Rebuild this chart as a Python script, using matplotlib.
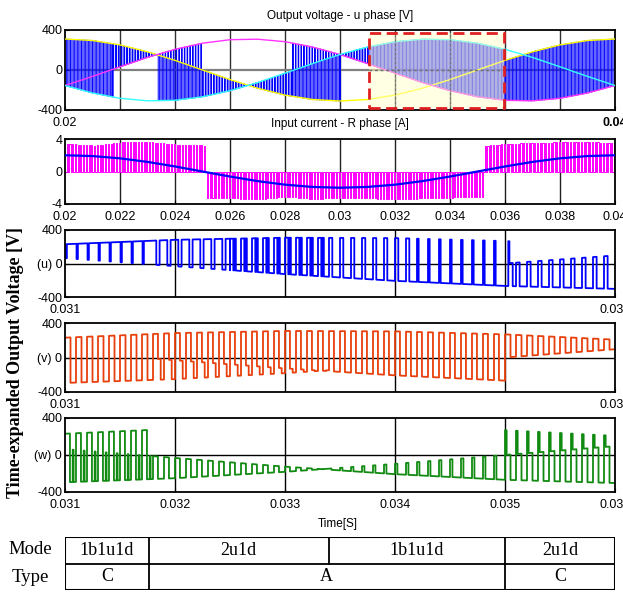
import numpy as np
import matplotlib.pyplot as plt
from matplotlib.patches import Rectangle

plt.rcParams['font.family'] = ['Liberation Sans Narrow', 'Liberation Sans', 'DejaVu Sans']

# input phase voltages [V], read every 1 ms from 0.020 s to 0.040 s
t_knot = np.linspace(0.020, 0.040, 21)
v_yellow = [310, 295, 251, 182, 96, 0, -96, -182, -251, -295, -310, -295, -251, -182, -96, 0, 96, 182, 251, 295, 310]
v_magenta = [-155, -64, 32, 126, 207, 268, 303, 308, 283, 230, 155, 64, -32, -126, -207, -268, -303, -308, -283, -230, -155]
v_cyan = [-155, -230, -283, -308, -303, -268, -207, -126, -32, 64, 155, 230, 283, 308, 303, 268, 207, 126, 32, -64, -155]

# input current R phase [A]
i_filtered = [2.0, 1.9, 1.62, 1.18, 0.62, 0, -0.62, -1.18, -1.62, -1.9, -2.0, -1.9, -1.62, -1.18, -0.62, 0, 0.62, 1.18, 1.62, 1.9, 2.0]
i_pwm_mag = [3.4, 3.2, 3.6, 3.6, 3.3, 3.2, 3.3, 3.4, 3.1, 3.4, 3.2, 3.3, 3.4, 3.3, 3.2, 3.1, 3.4, 3.5, 3.6, 3.6, 3.5]
i_sign = [(0.020, 0.0251, 1), (0.0251, 0.0352, -1), (0.0352, 0.040, 1)]

# switching segments: (start, end, phase sequence in one period, fraction of period)
u_full = [(0.0200, 0.02174, 'YC', [0.5, 0.5]),
          (0.02174, 0.02334, 'YM', [0.3, 0.7]),
          (0.02334, 0.0250, 'MYC', [0.2, 0.3, 0.5]),
          (0.0250, 0.02672, 'YC', [0.3, 0.7]),
          (0.02672, 0.02828, 'CY', [0.3, 0.7]),
          (0.02828, 0.0300, 'MCY', [0.2, 0.3, 0.5]),
          (0.0300, 0.03107, 'CM', [0.3, 0.7]),
          (0.03107, 0.03597, 'CM', [0.5, 0.5]),
          (0.03597, 0.0400, 'YM', [0.5, 0.5])]

u_zoom = [(0.031, 0.03176, 'CMC', [0.05, 0.12, 0.83]),
          (0.03176, 0.0325, 'CM', [0.7, 0.3]),
          (0.0325, 0.0334, 'CMCM', [0.3, 0.08, 0.15, 0.47]),
          (0.0334, 0.0342, 'CM', [0.3, 0.7]),
          (0.0342, 0.035, 'CM', [0.15, 0.85]),
          (0.035, 0.0351, 'MCYM', [0.3, 0.1, 0.3, 0.3]),
          (0.0351, 0.036, 'YM', [0.33, 0.67])]
v_zoom = [(0.031, 0.0318, 'CY', [0.5, 0.5]),
          (0.0318, 0.0334, 'CMY', [0.45, 0.25, 0.3]),
          (0.0334, 0.035, 'CM', [0.45, 0.55]),
          (0.035, 0.036, 'CY', [0.5, 0.5])]
w_zoom = [(0.031, 0.0318, 'CYMY', [0.45, 0.25, 0.08, 0.22]),
          (0.0318, 0.0334, 'MY', [0.45, 0.55]),
          (0.0334, 0.035, 'YM', [0.22, 0.78]),
          (0.035, 0.036, 'CYM', [0.15, 0.35, 0.5])]

mode_edges = [0.031, 0.03176, 0.0334, 0.035, 0.036]
mode_names = ['1b1u1d', '2u1d', '1b1u1d', '2u1d']
type_edges = [0.031, 0.03176, 0.035, 0.036]
type_names = ['C', 'A', 'C']

phases = {'Y': v_yellow, 'M': v_magenta, 'C': v_cyan}
period = 0.0001


def level(name, t):
    return np.interp(t, t_knot, phases[name])


def build_wave(segments):
    xs, ys = [], []
    for ts, te, seq, fr in segments:
        for t0 in np.arange(ts, te - 1e-9, period):
            ta = t0
            for name, f in zip(seq, fr):
                tb = min(ta + f * period, te)
                xs += [ta, tb]
                ys += [level(name, ta), level(name, tb)]
                ta = tb
    return np.array(xs), np.array(ys)


def build_current():
    xs, ys = [], []
    for ts, te, s in i_sign:
        for t0 in np.arange(ts, te - 1e-9, period):
            h = s * np.interp(t0, t_knot, i_pwm_mag)
            ta = t0
            for f, v in [(0.6, 0), (0.4, h)]:
                tb = min(ta + f * period, te)
                xs += [ta, tb]
                ys += [v, v]
                ta = tb
    return np.array(xs), np.array(ys)


W, H = 623, 592
fig = plt.figure(figsize=(W / 100, H / 100), dpi=100)


def box(l, t, r, b):
    return [l / W, 1 - b / H, (r - l) / W, (b - t) / H]


def style(ax):
    for s in ax.spines.values():
        s.set_linewidth(1.3)
    ax.tick_params(direction='in', length=3, labelsize=9)
    ax.tick_params(axis='x', pad=5)
    ax.tick_params(axis='y', pad=2)


# ---- panel 1: output voltage
ax1 = fig.add_axes(box(65, 30, 615, 110))
style(ax1)
for g in np.arange(0.022, 0.0399, 0.002):
    ax1.axvline(g, color='#303030', lw=1, zorder=0)
ax1.axhline(0, color='#808080', lw=1.6, zorder=0)
xu, yu = build_wave(u_full)
ax1.plot(xu, yu, color='#0000FF', lw=0.7, zorder=2)
ax1.plot(t_knot, v_yellow, color='#FFFF00', lw=1, zorder=3)
ax1.plot(t_knot, v_magenta, color='#FF33FF', lw=1, zorder=3)
ax1.plot(t_knot, v_cyan, color='#33FFFF', lw=1, zorder=3)
ax1.add_patch(Rectangle((0.03107, -380), 0.0049, 755, facecolor='#FFFFC8', alpha=0.5,
                        edgecolor='none', zorder=4))
for g in [0.032, 0.034]:
    ax1.axvline(g, ymin=0.03, ymax=0.97, color='#707070', lw=0.8, ls=(0, (2, 2)), zorder=4.5)
ax1.plot([0.03107, 0.03597], [0, 0], color='#707070', lw=1, ls=(0, (2, 2)), zorder=4.5)
ax1.add_patch(Rectangle((0.03107, -380), 0.0049, 755, facecolor='none', edgecolor='#E02020',
                        lw=2, ls=(0, (4, 2)), zorder=5))
ax1.set_xlim(0.02, 0.04)
ax1.set_ylim(-400, 400)
ax1.set_yticks([-400, 0, 400])
ax1.set_yticklabels(['-400', '0', '400'])
ax1.set_xticks([0.02, 0.04])
ax1.set_xticklabels(['0.02', '0.04'])
ax1.get_xticklabels()[1].set_fontweight('bold')
ax1.set_title('Output voltage - u phase [V]', fontsize=8.5, pad=8)

# ---- panel 2: input current
ax2 = fig.add_axes(box(65, 139, 615, 204))
style(ax2)
for g in np.arange(0.022, 0.0399, 0.002):
    ax2.axvline(g, color='#202020', lw=1, zorder=0)
xi, yi = build_current()
ax2.plot(xi, yi, color='#FF00FF', lw=0.7, zorder=2)
ax2.plot(t_knot, i_filtered, color='#0000FF', lw=1.6, zorder=3)
ax2.set_xlim(0.02, 0.04)
ax2.set_ylim(-4, 4)
ax2.set_yticks([-4, 0, 4])
ax2.set_yticklabels(['-4', '0', '4'])
ax2.set_xticks(np.linspace(0.02, 0.04, 11))
ax2.set_xticklabels(['0.02', '0.022', '0.024', '0.026', '0.028', '0.03',
                     '0.032', '0.034', '0.036', '0.038', '0.04'])
ax2.set_title('Input current - R phase [A]', fontsize=8.5, pad=9)

# ---- panels 3-5: time expanded output voltages
zoom_rows = [(u_zoom, '#0000FF', '(u) 0', (230, 297)),
             (v_zoom, '#E8400C', '(v) 0', (323, 392)),
             (w_zoom, '#108A10', '(w) 0', (418, 492))]
zoom_axes = []
for segs, col, lab, (top, bot) in zoom_rows:
    ax = fig.add_axes(box(65, top, 615, bot))
    style(ax)
    for g in [0.032, 0.033, 0.034, 0.035]:
        ax.axvline(g, color='black', lw=1, zorder=0)
    ax.axhline(0, color='black', lw=1, zorder=0)
    xw, yw = build_wave(segs)
    ax.plot(xw, yw, color=col, lw=1.3, zorder=2)
    ax.set_xlim(0.031, 0.036)
    ax.set_ylim(-400, 400)
    ax.set_yticks([-400, 0, 400])
    ax.set_yticklabels(['-400', lab, '400'])
    ax.set_xticks([0.031, 0.036])
    ax.set_xticklabels(['0.031', '0.036'])
    zoom_axes.append(ax)
zoom_axes[-1].set_xticks([0.031, 0.032, 0.033, 0.034, 0.035, 0.036])
zoom_axes[-1].set_xticklabels(['0.031', '0.032', '0.033', '0.034', '0.035', '0.036'])

fig.text(338 / W, 1 - 524 / H, 'Time[S]', fontsize=8.5, ha='center', va='center')
fig.text(16 / W, 1 - 362 / H, 'Time-expanded Output Voltage [V]', rotation=90,
         fontsize=13, fontweight='bold', family='Liberation Serif', ha='center', va='center')

# ---- mode / type table
axt = fig.add_axes(box(65, 537, 615, 590))
axt.set_xlim(0.031, 0.036)
axt.set_ylim(0, 2)
axt.axis('off')
axt.add_patch(Rectangle((0.031, 0), 0.005, 2, facecolor='none', edgecolor='black', lw=1.5))
axt.axhline(1, color='black', lw=1.3)
for e in mode_edges[1:-1]:
    axt.plot([e, e], [1, 2], color='black', lw=1.3)
for e in type_edges[1:-1]:
    axt.plot([e, e], [0, 1], color='black', lw=1.3)
for a, b, n in zip(mode_edges[:-1], mode_edges[1:], mode_names):
    axt.text((a + b) / 2, 1.5, n, ha='center', va='center', fontsize=13, family='Liberation Serif')
for a, b, n in zip(type_edges[:-1], type_edges[1:], type_names):
    axt.text((a + b) / 2, 0.5, n, ha='center', va='center', fontsize=13, family='Liberation Serif')
fig.text(30 / W, 1 - 549 / H, 'Mode', fontsize=13.5, family='Liberation Serif', ha='center', va='center')
fig.text(30 / W, 1 - 577 / H, 'Type', fontsize=13.5, family='Liberation Serif', ha='center', va='center')

fig.savefig('out.png', dpi=100)
